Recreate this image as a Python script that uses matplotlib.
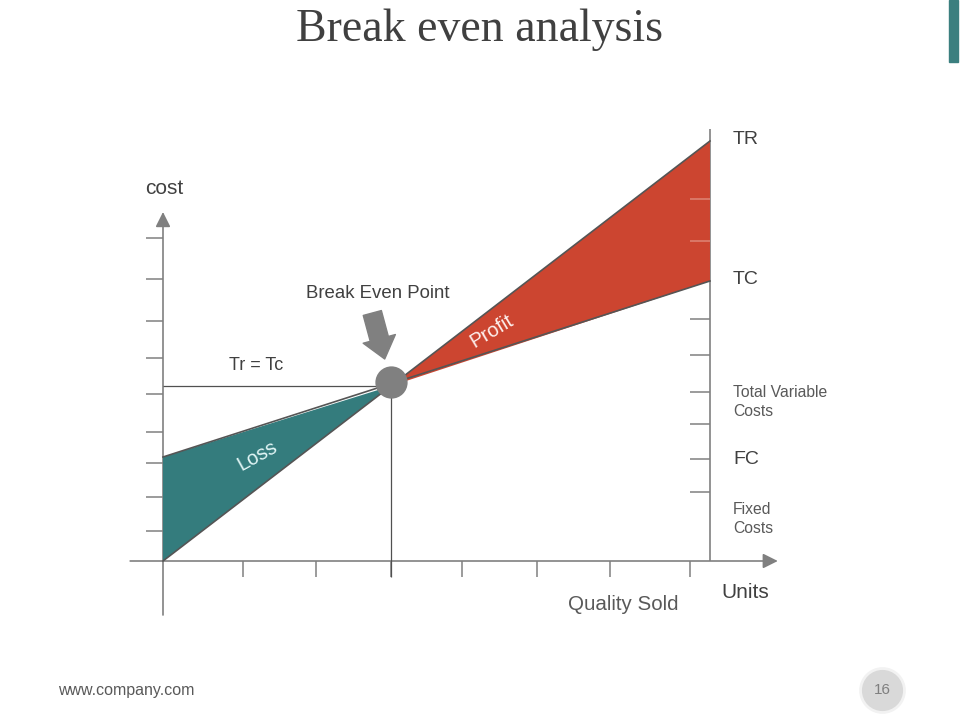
import matplotlib.pyplot as plt
from matplotlib.patches import Rectangle

plt.rcParams['font.family'] = ['Liberation Sans', 'DejaVu Sans']

# chart values (quantity units on x, cost units on y)
quantity = [0, 75]
total_revenue = [0, 105]
total_cost = [26, 70]
break_even_q = 31.25
break_even_cost = 43.75
x_ticks = [11, 21, 31.25, 41, 51.3, 61.3, 72.3]
left_ticks = [80.75, 70.5, 60, 50.75, 41.75, 32.25, 24.5, 16, 7.5]
right_ticks = [90.5, 80, 60.5, 51.5, 42.25, 34.25, 25.5, 17.25]
right_labels = ['TR', 'TC', 'Total Variable\nCosts', 'FC', 'Fixed\nCosts']
right_label_pos = [105.5, 70.25, 39.75, 25.25, 10.5]
right_label_size = [14, 14, 11.3, 14, 11.3]

TEAL = '#347c7d'
RED = '#cc4530'
GREY = '#808080'
TEXT = '#404040'

fig = plt.figure(figsize=(9.6, 7.2), dpi=100)
ax = fig.add_axes([0, 0, 1, 1])
ax.set_xlim(-163 / 7.293, (960 - 163) / 7.293)
ax.set_ylim(-(720 - 561) / 4, 561 / 4)
ax.axis('off')

# loss and profit areas
ax.fill([0, 0, break_even_q], [total_revenue[0], total_cost[0], break_even_cost],
        color=TEAL, zorder=2, lw=0)
ax.fill([break_even_q, quantity[1], quantity[1]], [break_even_cost, total_revenue[1], total_cost[1]],
        color=RED, zorder=2, lw=0)
ax.plot(quantity, total_revenue, color='#555555', lw=1.2, zorder=3)
ax.plot(quantity, total_cost, color='#555555', lw=1.2, zorder=3)

# axes
ax.annotate('', xy=(0, 87.25), xytext=(0, -13.5),
            arrowprops=dict(arrowstyle='-|>,head_length=0.9,head_width=0.45', color=GREY,
                            lw=1.2, shrinkA=0, shrinkB=0), zorder=1)
ax.annotate('', xy=(84.3, 0), xytext=(-4.5, 0),
            arrowprops=dict(arrowstyle='-|>,head_length=0.9,head_width=0.45', color=GREY,
                            lw=1.2, shrinkA=0, shrinkB=0), zorder=1)
ax.vlines(quantity[1], 0, 108, color=GREY, lw=1.2, zorder=1)
ax.hlines(left_ticks, -2.3, 0, color=GREY, lw=1.1, zorder=1)
ax.vlines(x_ticks, -4, 0, color=GREY, lw=1.1, zorder=1)
ax.hlines(right_ticks[2:], 72.3, quantity[1], color=GREY, lw=1.1, zorder=1)
ax.hlines(right_ticks[:2], 72.3, quantity[1], color='#de8676', lw=1.1, zorder=3)

# break even guides
ax.hlines(break_even_cost, 0, break_even_q, color='#505050', lw=0.9, zorder=1)
ax.vlines(break_even_q, -4, break_even_cost, color='#505050', lw=0.9, zorder=1)
ax.scatter([break_even_q], [break_even_cost + 1], s=540, color=GREY, zorder=4, lw=0)
ax.annotate('', xy=(30.4, 50.5), xytext=(28.7, 62),
            arrowprops=dict(arrowstyle='simple,head_length=1.0,head_width=1.6,tail_width=0.9',
                            mutation_scale=15, color=GREY, shrinkA=0, shrinkB=0), zorder=4)

# labels
ax.text(45.1, 57.5, 'Profit', color='#fdf0ed', fontsize=14.5, rotation=31,
        ha='center', va='center', zorder=5)
ax.text(13, 26.25, 'Loss', color='#e2f6f6', fontsize=14.5, rotation=29,
        ha='center', va='center', zorder=5)
ax.text(29.5, 67, 'Break Even Point', color=TEXT, fontsize=13.4, ha='center', va='center')
ax.text(12.75, 49, 'Tr = Tc', color=TEXT, fontsize=13, ha='center', va='center')
ax.text(0.14, 93.25, 'cost', color=TEXT, fontsize=15, ha='center', va='center')
ax.text(79.9, -7.75, 'Units', color=TEXT, fontsize=15, ha='center', va='center')
ax.text(63.1, -10.75, 'Quality Sold', color='#595959', fontsize=14.8, ha='center', va='center')
for lab, y, fs in zip(right_labels, right_label_pos, right_label_size):
    ax.text(78.16, y, lab, color=TEXT if fs > 12 else '#595959', fontsize=fs,
            ha='left', va='center', linespacing=1.3)

# slide decorations
fig.text(0.5, 1 - 30 / 720, 'Break even analysis', family='Liberation Serif',
         fontsize=33, color=TEXT, ha='center', va='center')
fig.patches.append(Rectangle((949 / 960, 1 - 62 / 720), 9 / 960, 62 / 720,
                             transform=fig.transFigure, color='#3b7f7f'))
fig.text(58 / 960, 1 - 691 / 720, 'www.company.com', fontsize=11.5, color='#595959',
         ha='left', va='center')
ax.scatter([98.6], [-32.25], s=1000, color='#d9d9d9', edgecolors='#f2f2f2', linewidths=2, zorder=2)
ax.text(98.6, -32.25, '16', fontsize=11, color='#7f7f7f', ha='center', va='center', zorder=3)

fig.savefig('out.png', dpi=100)
